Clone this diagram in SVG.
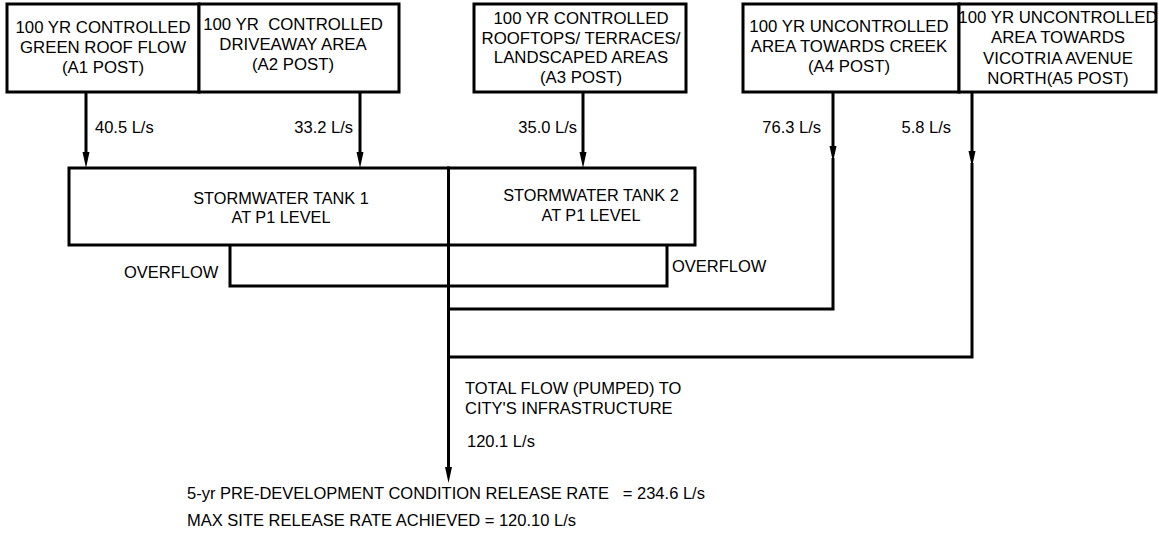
<svg xmlns="http://www.w3.org/2000/svg" width="1159" height="533" viewBox="0 0 1159 533">
<style>
.box{fill:#fff;stroke:#000;stroke-width:3}
.ln{fill:none;stroke:#000;stroke-width:3;stroke-linejoin:miter}
.t{font-family:"Liberation Sans",Arial,sans-serif;font-size:16.5px;fill:#000;white-space:pre}
.bt{font-family:"Liberation Sans",Arial,sans-serif;font-size:16.8px;fill:#000;text-anchor:middle;white-space:pre}
.tk{font-family:"Liberation Sans",Arial,sans-serif;font-size:16.3px;fill:#000;text-anchor:middle}
.e{text-anchor:end}
</style>
<defs>
<marker id="ah" markerUnits="userSpaceOnUse" markerWidth="17" markerHeight="8" refX="6" refY="3.5" orient="auto">
<path d="M0,0 L16,3.5 L0,7 z" fill="#000"/>
</marker>
</defs>
<rect width="1159" height="533" fill="#fff"/>
<g id="a1">
<rect class="box" x="7" y="4" width="192" height="88"/>
<text class="bt" x="103" y="33">100 YR CONTROLLED</text>
<text class="bt" x="103" y="53">GREEN ROOF FLOW</text>
<text class="bt" x="103" y="73">(A1 POST)</text>
</g>
<g id="a2">
<rect class="box" x="199" y="4" width="200" height="88"/>
<text class="bt" x="293" y="30">100 YR  CONTROLLED</text>
<text class="bt" x="293" y="50">DRIVEAWAY AREA</text>
<text class="bt" x="293" y="70">(A2 POST)</text>
</g>
<g id="a3">
<rect class="box" x="474" y="4" width="212" height="88"/>
<text class="bt" x="581" y="24">100 YR CONTROLLED</text>
<text class="bt" x="581" y="43.7">ROOFTOPS/ TERRACES/</text>
<text class="bt" x="581" y="63.3">LANDSCAPED AREAS</text>
<text class="bt" x="581" y="83">(A3 POST)</text>
</g>
<g id="a4">
<rect class="box" x="743" y="4" width="216" height="88"/>
<text class="bt" x="849" y="32">100 YR UNCONTROLLED</text>
<text class="bt" x="849" y="52">AREA TOWARDS CREEK</text>
<text class="bt" x="849" y="72">(A4 POST)</text>
</g>
<g id="a5">
<rect class="box" x="959" y="4" width="197" height="88"/>
<text class="bt" x="1058" y="23.3">100 YR UNCONTROLLED</text>
<text class="bt" x="1058" y="43.3">AREA TOWARDS</text>
<text class="bt" x="1058" y="63.5">VICOTRIA AVENUE</text>
<text class="bt" x="1058" y="83.7">NORTH(A5 POST)</text>
</g>
<g id="tank1">
<rect class="box" x="69" y="168" width="379.5" height="77"/>
<text class="tk" x="281" y="204">STORMWATER TANK 1</text>
<text class="tk" x="281" y="223">AT P1 LEVEL</text>
</g>
<g id="tank2">
<rect class="box" x="448.5" y="168" width="246.5" height="77"/>
<text class="tk" x="591" y="201">STORMWATER TANK 2</text>
<text class="tk" x="591" y="220.5">AT P1 LEVEL</text>
</g>
<g id="connectors">
<path class="ln" d="M86,92 V158" marker-end="url(#ah)"/>
<path class="ln" d="M360,92 V158" marker-end="url(#ah)"/>
<path class="ln" d="M583,92 V158" marker-end="url(#ah)"/>
<path class="ln" d="M833,92 V152" marker-end="url(#ah)"/>
<path class="ln" d="M833,158 V309 H448.5"/>
<path class="ln" d="M972,92 V157" marker-end="url(#ah)"/>
<path class="ln" d="M972,163 V357 H448.5"/>
<path class="ln" d="M230,245 V286 H667 V245"/>
<path class="ln" d="M448.5,245 V473" marker-end="url(#ah)"/>
</g>
<g id="labels">
<text class="t" x="95" y="133">40.5 L/s</text>
<text class="t e" x="353" y="133">33.2 L/s</text>
<text class="t e" x="577" y="133">35.0 L/s</text>
<text class="t e" x="821" y="133">76.3 L/s</text>
<text class="t e" x="951" y="133">5.8 L/s</text>
<text class="t" x="124" y="278">OVERFLOW</text>
<text class="t" x="672" y="272">OVERFLOW</text>
<text class="t" x="465" y="394">TOTAL FLOW (PUMPED) TO</text>
<text class="t" x="465" y="414">CITY'S INFRASTRUCTURE</text>
<text class="t" x="467" y="447">120.1 L/s</text>
<text class="t" x="187" y="499">5-yr PRE-DEVELOPMENT CONDITION RELEASE RATE   = 234.6 L/s</text>
<text class="t" x="187" y="526">MAX SITE RELEASE RATE ACHIEVED = 120.10 L/s</text>
</g>
</svg>
